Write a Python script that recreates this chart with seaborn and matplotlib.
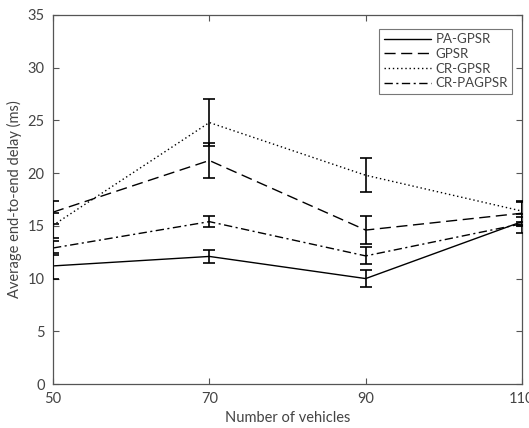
import matplotlib
matplotlib.use("Agg")
import matplotlib.pyplot as plt
import numpy as np
import pandas as pd
import seaborn as sns

# Number of vehicles on the x axis
vehicles = [50, 70, 90, 110]

# Mean end-to-end delay (ms) and error half-widths for each protocol
protocols = ["PA-GPSR", "GPSR", "CR-GPSR", "CR-PAGPSR"]
pa_gpsr = [11.2, 12.1, 10.0, 15.4]
pa_gpsr_err = [1.2, 0.6, 0.8, 0.4]
gpsr = [16.3, 21.2, 14.6, 16.2]
gpsr_err = [1.1, 1.7, 1.3, 1.1]
cr_gpsr = [15.05, 24.8, 19.8, 16.4]
cr_gpsr_err = [1.2, 2.2, 1.6, 1.0]
cr_pagpsr = [12.9, 15.4, 12.15, 15.2]
cr_pagpsr_err = [0.7, 0.55, 0.8, 0.9]

means = [pa_gpsr, gpsr, cr_gpsr, cr_pagpsr]
errs = [pa_gpsr_err, gpsr_err, cr_gpsr_err, cr_pagpsr_err]

df = pd.DataFrame({
    "vehicles": np.tile(vehicles, len(protocols)),
    "delay": np.concatenate(means),
    "err": np.concatenate(errs),
    "protocol": np.repeat(protocols, len(vehicles)),
})

sns.set_theme(style="white")
plt.rcParams["font.family"] = ["Lato", "DejaVu Sans"]
axis_grey = "#555555"
text_grey = "#444444"

fig = plt.figure(figsize=(5.29, 4.28), dpi=100)
ax = fig.add_axes([53 / 529, 44 / 428, 469 / 529, 369 / 428])

dash_styles = {
    "PA-GPSR": "",
    "GPSR": (8, 4),
    "CR-GPSR": (1, 2),
    "CR-PAGPSR": (6, 2.5, 1.5, 2.5),
}

sns.lineplot(data=df, x="vehicles", y="delay", hue="protocol", style="protocol",
             hue_order=protocols, style_order=protocols,
             palette=["black"] * 4, dashes=dash_styles, markers=False,
             linewidth=1.0, ax=ax, legend=True)

for name in protocols:
    sub = df[df["protocol"] == name]
    ax.errorbar(sub["vehicles"], sub["delay"], yerr=sub["err"], fmt="none",
                ecolor="black", elinewidth=1.2, capsize=4, capthick=1.2, zorder=3)

ax.set_xlim(50, 110)
ax.set_ylim(0, 35)
ax.set_xticks(vehicles)
ax.set_yticks(np.arange(0, 36, 5))
ax.set_xlabel("Number of vehicles", fontsize=10.5, color=text_grey, labelpad=3)
ax.set_ylabel("Average end-to-end delay (ms)", fontsize=10.5, color=text_grey, labelpad=4)

ax.tick_params(axis="both", which="both", direction="in", length=4, width=0.8,
               colors=axis_grey, labelcolor=text_grey, labelsize=10.5,
               top=True, right=True, bottom=True, left=True, pad=6)
for side in ax.spines.values():
    side.set_visible(True)
    side.set_color(axis_grey)
    side.set_linewidth(0.9)

leg = ax.legend(loc="upper right", bbox_to_anchor=(0.985, 0.97), frameon=True,
                fancybox=False, edgecolor=axis_grey, fontsize=9.5,
                handlelength=3.6, handletextpad=0.3, labelspacing=0.2,
                borderpad=0.35, borderaxespad=0.2)
leg.get_frame().set_linewidth(0.8)
for t in leg.get_texts():
    t.set_color(text_grey)

fig.savefig("out.png", dpi=100)
